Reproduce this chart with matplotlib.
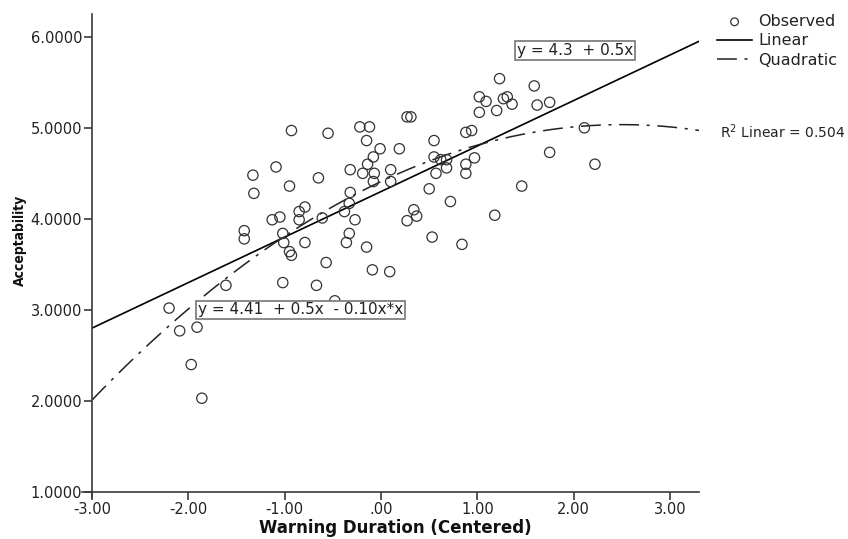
import numpy as np
import matplotlib
matplotlib.use("Agg")
import matplotlib.pyplot as plt
from matplotlib import font_manager

# observed points (Warning Duration centered, Acceptability)
obs_x = [-0.93, -0.55, -0.22, -0.12, -0.15, -0.01, -0.08, -0.14, -0.19, -0.07,
         -0.08, -0.32, -1.09, -1.33, -1.32, -0.95, -0.65, -0.32, -0.33, -0.79,
         -0.85, -1.05, -1.13, -0.85, -0.61, -0.38, -0.27, -1.42, -1.42, -1.02,
         -1.01, -0.33, -0.79, -0.36, 0.10, 0.10, 0.19, 0.27, 0.31, 0.55,
         0.55, 0.62, 0.68, 0.68, 0.57, 0.50, 0.72, 0.88, 0.88, 0.97,
         0.88, 0.94, 1.02, 1.02, 1.09, 1.20, 1.18, -0.95, -0.93, -0.15,
         -0.57, -0.09, 0.09, 0.34, 0.37, 0.27, 0.53, 0.84, 1.23, 1.59,
         1.27, 1.31, 1.36, 1.62, 1.75, 2.11, 1.75, 2.22, 1.46, -1.02,
         -0.67, -1.61, -0.48, -2.20, -2.09, -1.91, -1.97, -1.86]
obs_y = [4.97, 4.94, 5.01, 5.01, 4.86, 4.77, 4.68, 4.60, 4.50, 4.50,
         4.41, 4.54, 4.57, 4.48, 4.28, 4.36, 4.45, 4.29, 4.17, 4.13,
         4.08, 4.02, 3.99, 3.99, 4.01, 4.08, 3.99, 3.87, 3.78, 3.84,
         3.74, 3.84, 3.74, 3.74, 4.54, 4.41, 4.77, 5.12, 5.12, 4.86,
         4.68, 4.65, 4.65, 4.56, 4.50, 4.33, 4.19, 4.60, 4.50, 4.67,
         4.95, 4.97, 5.17, 5.34, 5.29, 5.19, 4.04, 3.64, 3.60, 3.69,
         3.52, 3.44, 3.42, 4.10, 4.03, 3.98, 3.80, 3.72, 5.54, 5.46,
         5.32, 5.34, 5.26, 5.25, 5.28, 5.00, 4.73, 4.60, 4.36, 3.30,
         3.27, 3.27, 3.10, 3.02, 2.77, 2.81, 2.40, 2.03]

# fitted models, as printed on the chart
lin_coef = [4.3, 0.5]
quad_coef = [4.41, 0.5, -0.10]
r2_linear = 0.504

x_ticks = [-3, -2, -1, 0, 1, 2, 3]
x_labels = ["-3.00", "-2.00", "-1.00", ".00", "1.00", "2.00", "3.00"]
y_ticks = [1, 2, 3, 4, 5, 6]
y_labels = ["1.0000", "2.0000", "3.0000", "4.0000", "5.0000", "6.0000"]

names = {f.name for f in font_manager.fontManager.ttflist}
if "Liberation Sans Narrow" in names:
    ylab_font = dict(family="Liberation Sans Narrow", size=13, weight="bold")
elif "DejaVu Sans Condensed" in names:
    ylab_font = dict(family="DejaVu Sans Condensed", size=10.5, weight="bold")
else:
    ylab_font = dict(family="DejaVu Sans", size=10, weight="bold",
                     stretch="condensed")

axis_col = "#3a3a3a"

fig = plt.figure(figsize=(8.48, 5.39), dpi=100)
ax = fig.add_axes([92 / 848, 1 - 492 / 539, 607 / 848, 478 / 539])

ax.set_xlim(-3, 3.30)
ax.set_ylim(1, 6.25)

xs = np.linspace(-3, 3.30, 300)
ax.plot(xs, lin_coef[0] + lin_coef[1] * xs, color="black", lw=1.2, label="Linear")
ax.plot(xs, quad_coef[0] + quad_coef[1] * xs + quad_coef[2] * xs ** 2,
        color="#222222", lw=1.1, linestyle=(0, (13, 5, 2, 5)), label="Quadratic")
ax.scatter(obs_x, obs_y, s=55, facecolors="none", edgecolors="#333333",
           linewidths=0.9, label="Observed", zorder=3)

ax.text(1.41, 5.85, "y = 4.3  + 0.5x", fontsize=11, ha="left", va="center",
        color="#222222",
        bbox=dict(boxstyle="square,pad=0.12", fc="white", ec="#808080", lw=1.3))
ax.text(-1.90, 3.00, "y = 4.41  + 0.5x  - 0.10x*x", fontsize=11, ha="left",
        va="center", color="#222222", zorder=4,
        bbox=dict(boxstyle="square,pad=0.12", fc="white", ec="#808080", lw=1.3))

fig.text(720 / 848, 1 - 132 / 539, r"R$^2$ Linear = %.3f" % r2_linear,
         fontsize=10, ha="left", va="center", color="#222222")

for side in ["top", "right"]:
    ax.spines[side].set_visible(False)
for side in ["left", "bottom"]:
    ax.spines[side].set_color(axis_col)
    ax.spines[side].set_linewidth(1.2)
ax.spines["bottom"].set_bounds(-3.1, 3.30)
ax.spines["left"].set_bounds(0.94, 6.25)

ax.set_xticks(x_ticks)
ax.set_xticklabels(x_labels)
ax.set_yticks(y_ticks)
ax.set_yticklabels(y_labels)
ax.tick_params(direction="out", length=6, width=1.2, color=axis_col,
               labelsize=10.5, labelcolor="#222222", pad=1)

ax.set_xlabel("Warning Duration (Centered)", fontsize=12, fontweight="bold",
              color="#111111")
ax.xaxis.set_label_coords(0.5, -0.056)
ax.set_ylabel("Acceptability", color="#111111", **ylab_font)
ax.yaxis.set_label_coords(-0.108, 0.527)

handles, labels = ax.get_legend_handles_labels()
order = [labels.index(n) for n in ["Observed", "Linear", "Quadratic"]]
leg = fig.legend([handles[i] for i in order], [labels[i] for i in order],
                 loc="upper left", bbox_to_anchor=(717 / 848, 1 - 14 / 539),
                 frameon=False, fontsize=11.5, handlelength=2.2,
                 handletextpad=0.4, labelspacing=0.28, borderpad=0,
                 borderaxespad=0, markerscale=0.75)
for t in leg.get_texts():
    t.set_color("#222222")

fig.savefig("out.png", dpi=100)
